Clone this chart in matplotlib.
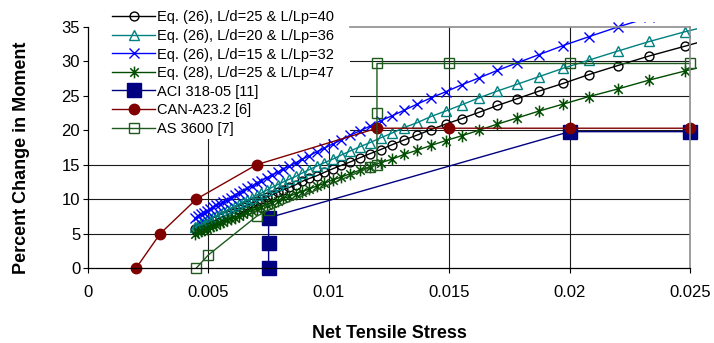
import matplotlib
matplotlib.use("Agg")
import matplotlib.pyplot as plt
from matplotlib.path import Path
from matplotlib.patches import Rectangle

plt.rcParams['font.family'] = ['Liberation Sans', 'DejaVu Sans']

# ---------------- data ----------------
stress = [0.004463, 0.004576, 0.004692, 0.004813, 0.004937, 0.005065, 0.005197, 0.005333,
          0.005475, 0.005621, 0.005772, 0.005929, 0.006091, 0.006259, 0.006434, 0.006615,
          0.006804, 0.007000, 0.007204, 0.007417, 0.007638, 0.007870, 0.008111, 0.008364,
          0.008628, 0.008905, 0.009195, 0.009500, 0.009821, 0.010158, 0.010514, 0.010889,
          0.011286, 0.011706, 0.012152, 0.012625, 0.013129, 0.013667, 0.014241, 0.014857,
          0.015519, 0.016231, 0.017000, 0.017833, 0.018739, 0.019727, 0.020810, 0.022000,
          0.023316, 0.024778, 0.026412]

eq26_ld25 = [5.6, 5.8, 6.0, 6.2, 6.4, 6.6, 6.8, 7.0, 7.3, 7.5, 7.7, 8.0, 8.2, 8.5, 8.8, 9.1,
             9.4, 9.7, 10.0, 10.3, 10.6, 11.0, 11.4, 11.7, 12.1, 12.6, 13.0, 13.4, 13.9, 14.4,
             14.9, 15.4, 16.0, 16.6, 17.2, 17.9, 18.6, 19.3, 20.1, 20.9, 21.7, 22.6, 23.6, 24.6,
             25.7, 26.8, 28.1, 29.4, 30.8, 32.2, 33.8]

eq26_ld20 = [6.0, 6.2, 6.5, 6.7, 6.9, 7.1, 7.4, 7.6, 7.9, 8.1, 8.4, 8.7, 9.0, 9.3, 9.6, 9.9,
             10.2, 10.6, 10.9, 11.3, 11.7, 12.1, 12.5, 12.9, 13.3, 13.8, 14.3, 14.8, 15.3, 15.8,
             16.4, 17.0, 17.6, 18.2, 18.9, 19.6, 20.4, 21.1, 22.0, 22.8, 23.7, 24.7, 25.7, 26.7,
             27.8, 29.0, 30.2, 31.5, 32.9, 34.3, 35.7]

eq26_ld15 = [7.3, 7.6, 7.8, 8.0, 8.3, 8.5, 8.8, 9.1, 9.3, 9.6, 9.9, 10.2, 10.6, 10.9, 11.2, 11.6,
             11.9, 12.3, 12.7, 13.1, 13.5, 13.9, 14.4, 14.8, 15.3, 15.8, 16.3, 16.9, 17.4, 18.0,
             18.6, 19.3, 19.9, 20.6, 21.4, 22.1, 22.9, 23.8, 24.7, 25.6, 26.6, 27.6, 28.7, 29.8,
             31.0, 32.3, 33.6, 35.0, 36.4, 37.9, 39.4]

eq28_ld25 = [5.0, 5.2, 5.4, 5.5, 5.7, 5.9, 6.1, 6.3, 6.5, 6.7, 6.9, 7.1, 7.3, 7.6, 7.8, 8.1,
             8.3, 8.6, 8.9, 9.2, 9.5, 9.8, 10.1, 10.4, 10.8, 11.1, 11.5, 11.9, 12.3, 12.8,
             13.2, 13.7, 14.2, 14.7, 15.3, 15.8, 16.5, 17.1, 17.8, 18.5, 19.2, 20.0, 20.9, 21.8,
             22.8, 23.8, 24.9, 26.0, 27.3, 28.6, 30.0]

aci_x = [0.0075, 0.0075, 0.0075, 0.020, 0.025]
aci_y = [0.0, 3.6, 7.3, 19.8, 19.8]

can_x = [0.002, 0.003, 0.0045, 0.007, 0.012, 0.015, 0.020, 0.025]
can_y = [0.0, 5.0, 10.0, 15.0, 20.3, 20.3, 20.3, 20.3]

as_x = [0.0045, 0.005, 0.007, 0.0075, 0.0117, 0.012, 0.012, 0.012, 0.015, 0.020, 0.025]
as_y = [0.0, 1.9, 7.5, 8.4, 14.6, 15.0, 22.5, 29.7, 29.7, 29.7, 29.7]

labels = ["Eq. (26), L/d=25 & L/Lp=40", "Eq. (26), L/d=20 & L/Lp=36",
          "Eq. (26), L/d=15 & L/Lp=32", "Eq. (28), L/d=25 & L/Lp=47",
          "ACI 318-05 [11]", "CAN-A23.2 [6]", "AS 3600 [7]"]

xticks = [0, 0.005, 0.01, 0.015, 0.02, 0.025]
xticklabels = ["0", "0.005", "0.01", "0.015", "0.02", "0.025"]
yticks = [0, 5, 10, 15, 20, 25, 30, 35]

# ---------------- figure ----------------
W, H = 714, 343
fig = plt.figure(figsize=(W / 100, H / 100), dpi=100)
L, R, T, B = 88, 690, 27, 268
ax = fig.add_axes([L / W, 1 - B / H, (R - L) / W, (B - T) / H])

star = Path([(0, -1), (0, 1), (-0.72, -0.72), (0.72, 0.72), (-0.72, 0.72), (0.72, -0.72)],
            [Path.MOVETO, Path.LINETO, Path.MOVETO, Path.LINETO, Path.MOVETO, Path.LINETO])

clip = Rectangle((-0.012, -0.03), 1.024, 1.052, transform=ax.transAxes,
                 facecolor='none', edgecolor='none')

lw = 1.0
l1, = ax.plot(stress, eq26_ld25, color='black', marker='o', mfc='none', mec='black',
              ms=6.4, mew=1.0, lw=lw, label=labels[0])
l2, = ax.plot(stress, eq26_ld20, color='#008080', marker='^', mfc='none', mec='#008080',
              ms=7.2, mew=1.0, lw=lw, label=labels[1])
l3, = ax.plot(stress, eq26_ld15, color='#0000FF', marker='x', mec='#0000FF',
              ms=7.4, mew=1.0, lw=lw, label=labels[2])
l4, = ax.plot(stress, eq28_ld25, color='#004C00', marker=star, mec='#004C00',
              ms=8.5, mew=1.1, lw=lw, label=labels[3])
for ln in (l1, l2, l3, l4):
    ln.set_clip_path(clip)

ax.plot(aci_x, aci_y, color='#000080', marker='s', mfc='#000080', mec='#000080',
        ms=10.5, lw=lw, label=labels[4], clip_on=False)
ax.plot(can_x, can_y, color='#800000', marker='o', mfc='#800000', mec='#800000',
        ms=7.5, lw=lw, label=labels[5], clip_on=False)
ax.plot(as_x, as_y, color='#1E5A1E', marker='s', mfc='none', mec='#1E5A1E',
        ms=6.5, mew=1.0, lw=lw, label=labels[6], clip_on=False)

ax.set_xlim(0, 0.025)
ax.set_ylim(0, 35)
ax.set_xticks(xticks)
ax.set_xticklabels(xticklabels)
ax.set_yticks(yticks)
ax.tick_params(axis='x', direction='out', length=3.6, width=0.8, pad=8.5, labelsize=12)
ax.tick_params(axis='y', direction='out', length=3.6, width=0.8, pad=2, labelsize=12)

ax.set_axisbelow(True)
ax.grid(True, color='#1a1a1a', lw=0.8)
for gl in (ax.get_xgridlines()[0], ax.get_xgridlines()[-1],
           ax.get_ygridlines()[0], ax.get_ygridlines()[-1]):
    gl.set_visible(False)

for s in ('left', 'bottom'):
    ax.spines[s].set_color('black')
    ax.spines[s].set_linewidth(0.9)
for s in ('top', 'right'):
    ax.spines[s].set_color('#8c8c8c')
    ax.spines[s].set_linewidth(1.2)
ax.spines['top'].set_bounds(0.025 * (350 - L) / (R - L), 0.025)

ax.set_xlabel("Net Tensile Stress", fontsize=13, fontweight='bold', va='center')
ax.xaxis.set_label_coords(0.5, (B - 333) / (B - T))
ax.set_ylabel("Percent Change in Moment", fontsize=13, fontweight='bold', va='center')
ax.yaxis.set_label_coords((22 - L) / (R - L), (B - 158) / (B - T))

# white legend background
bg = Rectangle((89 / W, 1 - 139 / H), (350 - 89) / W, (139 - 5) / H, transform=fig.transFigure,
               facecolor='white', edgecolor='none', zorder=1.8, clip_on=False)
ax.add_artist(bg)

leg = ax.legend(loc='upper left', bbox_to_anchor=(112 / W, 1 - 10.5 / H),
                bbox_transform=fig.transFigure, frameon=False, fontsize=10.5,
                borderpad=0, borderaxespad=0, handlelength=2.95, handletextpad=0.15,
                labelspacing=0.31, numpoints=1)

fig.savefig("out.png", dpi=100)
